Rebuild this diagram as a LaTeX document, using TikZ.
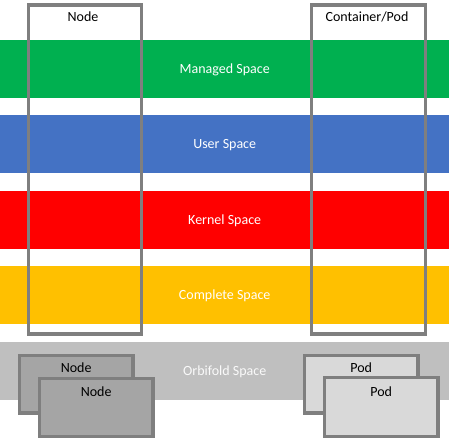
\documentclass[tikz,border=0pt]{standalone}
\usepackage{fontspec}
\setmainfont{Carlito}
\definecolor{cgreen}{HTML}{00B050}
\definecolor{cblue}{HTML}{4472C4}
\definecolor{cred}{HTML}{FF0000}
\definecolor{cyellow}{HTML}{FFC000}
\definecolor{cband}{HTML}{BFBFBF}
\definecolor{cframe}{HTML}{7F7F7F}
\definecolor{cnode}{HTML}{A5A5A5}
\definecolor{cpod}{HTML}{D9D9D9}
\definecolor{corb}{HTML}{FAFAFA}
\tikzset{
  band/.style={rectangle, inner sep=0pt, minimum width=449pt, minimum height=58pt, text=white, font=\fontsize{14}{16}\selectfont, anchor=north west, text depth=0pt, text height=9pt},
  frame/.style={rectangle, draw=cframe, line width=3.2pt, inner sep=0pt, anchor=north west},
  box/.style={rectangle, draw=cframe, line width=3.3pt, inner sep=0pt, anchor=north west, minimum width=113.6pt},
  lbl/.style={font=\fontsize{14}{16}\selectfont, text=black, inner sep=0pt}
}
\begin{document}
\begin{tikzpicture}[x=1pt,y=-1pt]
\useasboundingbox (0,0) rectangle (450,438);
\fill[white] (0,0) rectangle (450,438);
% bands
\node[band, fill=cgreen] (managed) at (0,40) {Managed Space};
\node[band, fill=cblue] (user) at (0,115) {User Space};
\node[band, fill=cred] (kernel) at (0,191) {Kernel Space};
\node[band, fill=cyellow] (complete) at (0,266) {Complete Space};
\node[band, fill=cband, text=corb] (orbifold) at (0,342) {Orbifold Space};
% frames
\node[frame, minimum width=113.5pt, minimum height=329pt] (nodeframe) at (26.5,3.5) {};
\node[frame, minimum width=114pt, minimum height=329pt] (podframe) at (310,3.5) {};
\node[lbl] (nodelbl) at (83,16.5) {Node};
\node[lbl] (podlbl) at (367,16.5) {Container/Pod};
% bottom boxes
\node[box, fill=cnode, minimum height=57.6pt] (nodeA) at (17.7,353.7) {};
\node[lbl] (nodeAlbl) at ([yshift=-13.8pt]nodeA.north) {Node};
\node[box, fill=cnode, minimum height=58.6pt] (nodeB) at (37.7,376.7) {};
\node[lbl] (nodeBlbl) at ([yshift=-14.8pt]nodeB.north) {Node};
\node[box, fill=cpod, minimum height=57.6pt] (podA) at (302.7,353.7) {};
\node[lbl] (podAlbl) at ([yshift=-13.8pt]podA.north) {Pod};
\node[box, fill=cpod, minimum height=59.6pt] (podB) at (322.7,375.7) {};
\node[lbl] (podBlbl) at ([yshift=-15.8pt]podB.north) {Pod};
\end{tikzpicture}
\end{document}
